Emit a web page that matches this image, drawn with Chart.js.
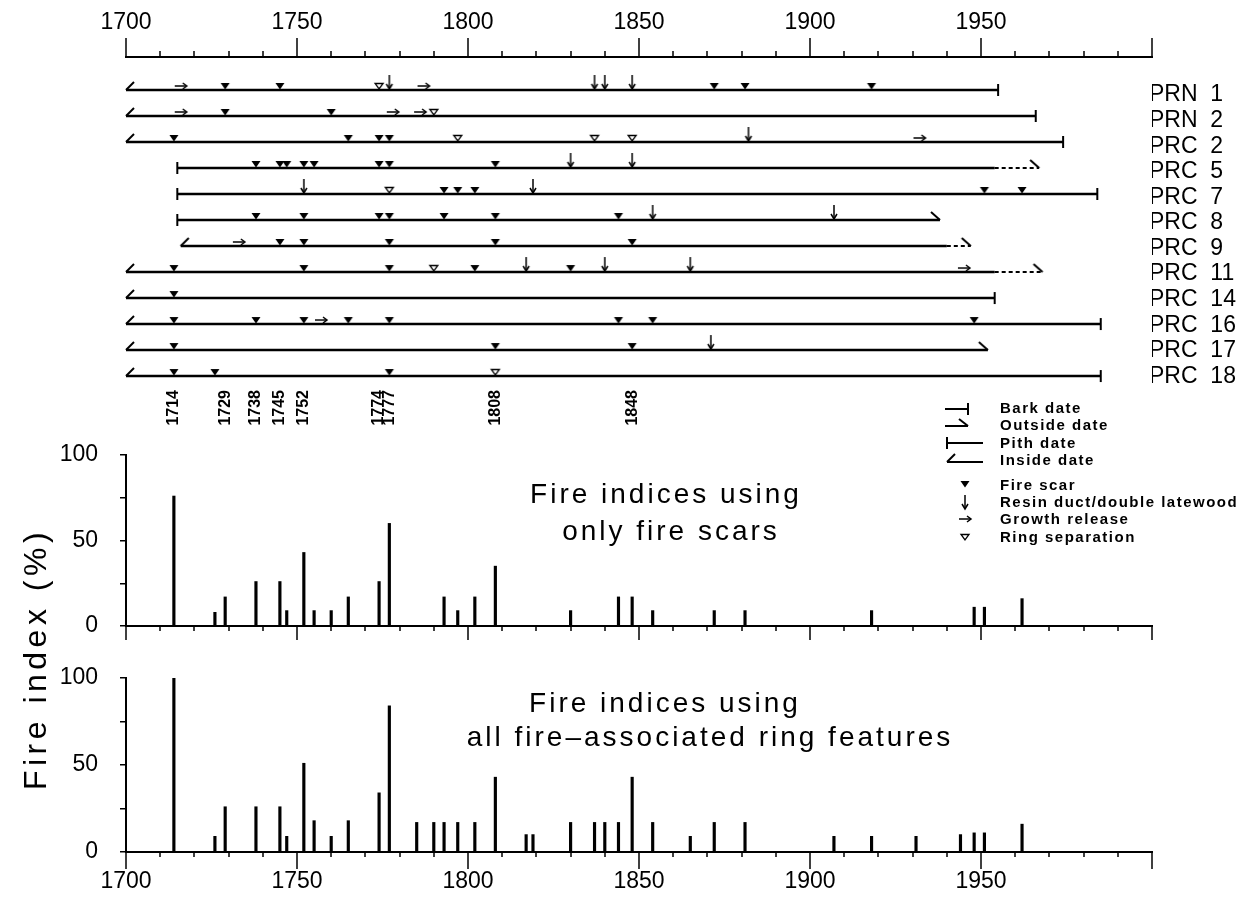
<!DOCTYPE html>
<html>
<head>
<meta charset="utf-8">
<script src="https://cdn.jsdelivr.net/npm/chart.js@4.4.1/dist/chart.umd.min.js"></script>
<style>
  html, body { margin: 0; padding: 0; background: #fff; }
  #wrap { position: relative; width: 1251px; height: 897px; }
  #wrap canvas { position: absolute; left: 0; top: 0; }
</style>
</head>
<body>
<div id="wrap">
  <canvas id="trees" width="1251" height="897"></canvas>
  <canvas id="scars" width="1251" height="897"></canvas>
  <canvas id="all" width="1251" height="897"></canvas>
</div>
<script>
// tree records (one entry per sample, top to bottom)
const trees = ['PRN  1', 'PRN  2', 'PRC  2', 'PRC  5', 'PRC  7', 'PRC  8', 'PRC  9', 'PRC  11', 'PRC  14', 'PRC  16', 'PRC  17', 'PRC  18'];
const startYear = [1700, 1700, 1700, 1715, 1715, 1715, 1716, 1700, 1700, 1700, 1700, 1700];
const startType = ['inside', 'inside', 'inside', 'pith', 'pith', 'pith', 'inside', 'inside', 'inside', 'inside', 'inside', 'inside'];
const endYear = [1955, 1966, 1974, 1967, 1984, 1938, 1947, 1968, 1954, 1985, 1952, 1985];
const endType = ['bark', 'bark', 'bark', 'outside', 'bark', 'outside', 'outside', 'outside', 'bark', 'bark', 'outside', 'bark'];
const dashFrom = [null, null, null, 1954, null, null, 1940, 1954, null, null, null, null];

// ring features per tree
const fireScars = [
  [1729, 1745, 1872, 1881, 1918],
  [1729, 1760],
  [1714, 1765, 1774, 1777],
  [1738, 1745, 1747, 1752, 1755, 1774, 1777, 1808],
  [1793, 1797, 1802, 1951, 1962],
  [1738, 1752, 1774, 1777, 1793, 1808, 1844],
  [1745, 1752, 1777, 1808, 1848],
  [1714, 1752, 1777, 1802, 1830],
  [1714],
  [1714, 1738, 1752, 1765, 1777, 1844, 1854, 1948],
  [1714, 1808, 1848],
  [1714, 1726, 1777]
];
const resinDucts = [
  [1777, 1837, 1840, 1848], [], [1882], [1830, 1848], [1752, 1819], [1854, 1907],
  [], [1817, 1840, 1865], [], [], [1871], []
];
const growthReleases = [
  [1716, 1787], [1716, 1778, 1786], [1932], [], [], [],
  [1733], [1945], [], [1757], [], []
];
const ringSeparations = [
  [1774], [1790], [1797, 1837, 1848], [], [1777], [],
  [], [1790], [], [], [], [1808]
];
const keyYears = [1714, 1729, 1738, 1745, 1752, 1774, 1777, 1808, 1848];

// fire indices (%)
const scarYears = [1714, 1726, 1729, 1738, 1745, 1747, 1752, 1755, 1760, 1765, 1774, 1777, 1793, 1797, 1802, 1808, 1830, 1844, 1848, 1854, 1872, 1881, 1918, 1948, 1951, 1962];
const scarIndex = [76, 8, 17, 26, 26, 9, 43, 9, 9, 17, 26, 60, 17, 9, 17, 35, 9, 17, 17, 9, 9, 9, 9, 11, 11, 16];
const allYears = [1714, 1726, 1729, 1738, 1745, 1747, 1752, 1755, 1760, 1765, 1774, 1777, 1785, 1790, 1793, 1797, 1802, 1808, 1817, 1819, 1830, 1837, 1840, 1844, 1848, 1854, 1865, 1872, 1881, 1907, 1918, 1931, 1944, 1948, 1951, 1962];
const allIndex = [100, 9, 26, 26, 26, 9, 51, 18, 9, 18, 34, 84, 17, 17, 17, 17, 17, 43, 10, 10, 17, 17, 17, 17, 43, 17, 9, 17, 17, 9, 9, 9, 10, 11, 11, 16];

const legendLabels = ['Bark date', 'Outside date', 'Pith date', 'Inside date', 'Fire scar', 'Resin duct/double latewood', 'Growth release', 'Ring separation'];

const FONT = '"Liberation Sans", Arial, sans-serif';
Chart.defaults.font.family = FONT;
Chart.defaults.color = '#000';

// small symbols, drawn around their anchor point (canvas centre)
function icon(w, h, draw) {
  const c = document.createElement('canvas');
  c.width = w; c.height = h;
  const g = c.getContext('2d');
  g.translate(w / 2, h / 2);
  g.strokeStyle = '#000'; g.fillStyle = '#000'; g.lineWidth = 2;
  draw(g);
  return c;
}
function seg(g, pts) {
  g.beginPath();
  g.moveTo(pts[0][0], pts[0][1]);
  for (let i = 1; i < pts.length; i++) g.lineTo(pts[i][0], pts[i][1]);
  g.stroke();
}
const icons = {
  inside: icon(24, 24, g => seg(g, [[0, 0], [8, -8]])),
  outside: icon(24, 24, g => seg(g, [[-9, -8], [0, 0]])),
  pith: icon(8, 16, g => seg(g, [[0, -6], [0, 6]])),
  bark: icon(8, 16, g => seg(g, [[0, -6], [0, 6]])),
  scar: icon(14, 18, g => {
    g.beginPath(); g.moveTo(-4.5, -7); g.lineTo(4.5, -7); g.lineTo(0, -0.5); g.closePath(); g.fill();
  }),
  sep: icon(14, 18, g => {
    g.lineWidth = 1.3;
    g.beginPath(); g.moveTo(-4, -6.5); g.lineTo(4, -6.5); g.lineTo(0, -1); g.closePath(); g.stroke();
  }),
  resin: icon(10, 34, g => {
    g.lineWidth = 1.5;
    seg(g, [[0, -15], [0, -1]]);
    seg(g, [[-3, -6], [0, -1], [3, -6]]);
  }),
  release: icon(20, 20, g => {
    g.lineWidth = 1.5;
    seg(g, [[-6, -4], [6, -4]]);
    seg(g, [[2, -7], [6, -4], [2, -1]]);
  })
};

function pointsOf(rows) {
  return rows.flatMap((years, i) => years.map(x => ({ x: x, y: i })));
}
function markerSet(data, style) {
  return { data: data, showLine: false, pointStyle: style, pointRadius: 5, pointHoverRadius: 5, order: 1, clip: false };
}

// major ticks every 50 years, minor every 10
const yearTicks = {
  id: 'yearTicks',
  afterDraw(chart, args, o) {
    const s = chart.scales[o.axis];
    const ctx = chart.ctx;
    const y0 = o.dir < 0 ? s.bottom : s.top;
    ctx.save();
    ctx.strokeStyle = '#000';
    ctx.lineWidth = 1.5;
    for (let v = 1700; v <= 2000; v += 10) {
      const px = Math.round(s.getPixelForValue(v));
      const len = v % 50 === 0 ? o.major : o.minor;
      ctx.beginPath();
      ctx.moveTo(px, y0);
      ctx.lineTo(px, y0 + o.dir * len);
      ctx.stroke();
    }
    ctx.restore();
  }
};

function spaced(ctx, text, x, y, font, spacing, align) {
  ctx.save();
  ctx.font = font;
  ctx.letterSpacing = spacing + 'px';
  ctx.textAlign = align || 'center';
  ctx.fillStyle = '#000';
  ctx.fillText(text, x, y);
  ctx.restore();
}

// ---------- tree chronologies ----------
const rowLines = trees.map((_, i) => ({
  data: [{ x: startYear[i], y: i }, { x: dashFrom[i] || endYear[i], y: i }],
  borderColor: '#000', borderWidth: 2.4, pointRadius: 0, order: 2, clip: false
}));
const rowDashes = trees.map((_, i) => i).filter(i => dashFrom[i]).map(i => ({
  data: [{ x: dashFrom[i], y: i }, { x: endYear[i], y: i }],
  borderColor: '#000', borderWidth: 2, borderDash: [4, 3], pointRadius: 0, order: 2, clip: false
}));
const ends = kind => trees.map((_, i) => i).filter(i => endType[i] === kind).map(i => ({ x: endYear[i], y: i }));
const starts = kind => trees.map((_, i) => i).filter(i => startType[i] === kind).map(i => ({ x: startYear[i], y: i }));

new Chart(document.getElementById('trees'), {
  type: 'line',
  data: {
    datasets: [
      markerSet(pointsOf(fireScars), icons.scar),
      markerSet(pointsOf(ringSeparations), icons.sep),
      markerSet(pointsOf(resinDucts), icons.resin),
      markerSet(pointsOf(growthReleases), icons.release),
      markerSet(starts('inside'), icons.inside),
      markerSet(starts('pith'), icons.pith),
      markerSet(ends('bark'), icons.bark),
      markerSet(ends('outside'), icons.outside),
      ...rowLines,
      ...rowDashes
    ]
  },
  options: {
    responsive: false, animation: false, devicePixelRatio: 1, events: [],
    layout: { padding: { left: 126, top: 0, right: 0, bottom: 457 } },
    plugins: {
      legend: { display: false }, tooltip: { enabled: false },
      yearTicks: { axis: 'x', dir: -1, major: 19, minor: 6 }
    },
    scales: {
      x: {
        type: 'linear', position: 'top', min: 1700, max: 2000,
        afterFit: s => { s.height = 57; },
        grid: { display: false, drawTicks: false },
        border: { display: true, color: '#000', width: 2 },
        ticks: {
          stepSize: 10, autoSkip: false, maxRotation: 0, padding: 21, color: '#000',
          font: { size: 23 },
          callback: v => (Math.round(v) % 50 === 0 && v < 2000) ? String(Math.round(v)) : ''
        }
      },
      xKey: {
        type: 'linear', position: 'bottom', min: 1700, max: 2000,
        afterFit: s => { s.height = 55; },
        afterBuildTicks: s => { s.ticks = keyYears.map(v => ({ value: v })); },
        grid: { display: false, drawTicks: false },
        border: { display: false },
        ticks: {
          autoSkip: false, minRotation: 90, maxRotation: 90, padding: 5, color: '#000',
          font: { size: 16, weight: 'bold' },
          callback: v => String(v)
        }
      },
      y: { type: 'linear', display: false, reverse: true, min: -1.269, max: 11.346 },
      yLab: {
        type: 'linear', position: 'right', reverse: true, min: -1.485, max: 11.333,
        afterFit: s => { s.width = 99; },
        afterBuildTicks: s => { s.ticks = trees.map((_, i) => ({ value: i })); },
        grid: { display: false, drawTicks: false },
        border: { display: false },
        ticks: { autoSkip: false, padding: -3, color: '#000', font: { size: 23 }, callback: v => trees[v] }
      }
    }
  },
  plugins: [yearTicks]
});

// ---------- fire index panels ----------
function indexScales(bottomHeight, showLabels) {
  return {
    x: {
      type: 'linear', position: 'bottom', min: 1700, max: 2000, offset: false,
      afterFit: s => { s.height = bottomHeight; },
      grid: { display: false, drawTicks: false, offset: false },
      border: { display: true, color: '#000', width: 2 },
      ticks: {
        display: showLabels, stepSize: 10, autoSkip: false, maxRotation: 0, padding: 16, color: '#000',
        font: { size: 23 },
        callback: v => (Math.round(v) % 50 === 0 && v < 2000) ? String(Math.round(v)) : ''
      }
    },
    y: {
      type: 'linear', position: 'left', min: 0, max: 100,
      afterFit: s => { s.width = 126; },
      grid: { drawOnChartArea: false, drawTicks: true, tickLength: 6, color: '#000', lineWidth: 1.5 },
      border: { display: true, color: '#000', width: 2 },
      ticks: { stepSize: 25, autoSkip: false, padding: 22, color: '#000', font: { size: 23 },
        callback: v => (v % 50 === 0 ? String(v) : '') }
    }
  };
}
function bars(years, values) {
  return [{
    data: years.map((x, i) => ({ x: x, y: values[i] })),
    backgroundColor: '#000', borderWidth: 0, barThickness: 2.5
  }];
}

const scarText = {
  id: 'scarText',
  afterDraw(chart) {
    const ctx = chart.ctx;
    const f = '28px ' + FONT;
    spaced(ctx, 'Fire indices using', 666, 503, f, 3);
    spaced(ctx, 'only fire scars', 671, 540, f, 3);

    // legend
    const lf = 'bold 15px ' + FONT;
    const ys = [408, 425, 443, 460, 485, 502, 519, 537];
    ctx.save();
    ctx.strokeStyle = '#000';
    ctx.lineWidth = 2;
    const line = pts => { ctx.beginPath(); ctx.moveTo(pts[0][0], pts[0][1]); for (let i = 1; i < pts.length; i++) ctx.lineTo(pts[i][0], pts[i][1]); ctx.stroke(); };
    line([[945, ys[0] + 1], [968, ys[0] + 1]]); line([[968, ys[0] - 5], [968, ys[0] + 7]]);
    line([[945, ys[1] + 1], [968, ys[1] + 1]]); line([[959, ys[1] - 6], [968, ys[1] + 1]]);
    line([[947, ys[2]], [983, ys[2]]]); line([[947, ys[2] - 6], [947, ys[2] + 6]]);
    line([[947, ys[3] + 2], [983, ys[3] + 2]]); line([[947, ys[3] + 2], [955, ys[3] - 6]]);
    ctx.restore();
    const put = (img, x, y) => ctx.drawImage(img, Math.round(x - img.width / 2), Math.round(y - img.height / 2));
    put(icons.scar, 965, ys[4] + 3);
    put(icons.resin, 965, ys[5] + 8);
    put(icons.release, 965, ys[6] + 4);
    put(icons.sep, 965, ys[7] + 4);
    ctx.save();
    ctx.textBaseline = 'middle';
    legendLabels.forEach((t, i) => spaced(ctx, t, 1000, ys[i] + 1, lf, 1.5, 'left'));
    ctx.restore();
  }
};

new Chart(document.getElementById('scars'), {
  type: 'bar',
  data: { datasets: bars(scarYears, scarIndex) },
  options: {
    responsive: false, animation: false, devicePixelRatio: 1, events: [],
    layout: { padding: { left: 0, top: 455, right: 99, bottom: 251 } },
    plugins: {
      legend: { display: false }, tooltip: { enabled: false },
      yearTicks: { axis: 'x', dir: 1, major: 14, minor: 5 }
    },
    scales: indexScales(20, false)
  },
  plugins: [yearTicks, scarText]
});

const allText = {
  id: 'allText',
  afterDraw(chart) {
    const ctx = chart.ctx;
    const f = '28px ' + FONT;
    spaced(ctx, 'Fire indices using', 665, 712, f, 3);
    spaced(ctx, 'all fire\u2013associated ring features', 710, 746, f, 3);
    ctx.save();
    ctx.translate(46, 659);
    ctx.rotate(-Math.PI / 2);
    spaced(ctx, 'Fire index (%)', 0, 0, '32px ' + FONT, 4.5);
    ctx.restore();
  }
};

new Chart(document.getElementById('all'), {
  type: 'bar',
  data: { datasets: bars(allYears, allIndex) },
  options: {
    responsive: false, animation: false, devicePixelRatio: 1, events: [],
    layout: { padding: { left: 0, top: 678, right: 99, bottom: 0 } },
    plugins: {
      legend: { display: false }, tooltip: { enabled: false },
      yearTicks: { axis: 'x', dir: 1, major: 17, minor: 5 }
    },
    scales: indexScales(45, true)
  },
  plugins: [yearTicks, allText]
});
</script>
</body>
</html>
